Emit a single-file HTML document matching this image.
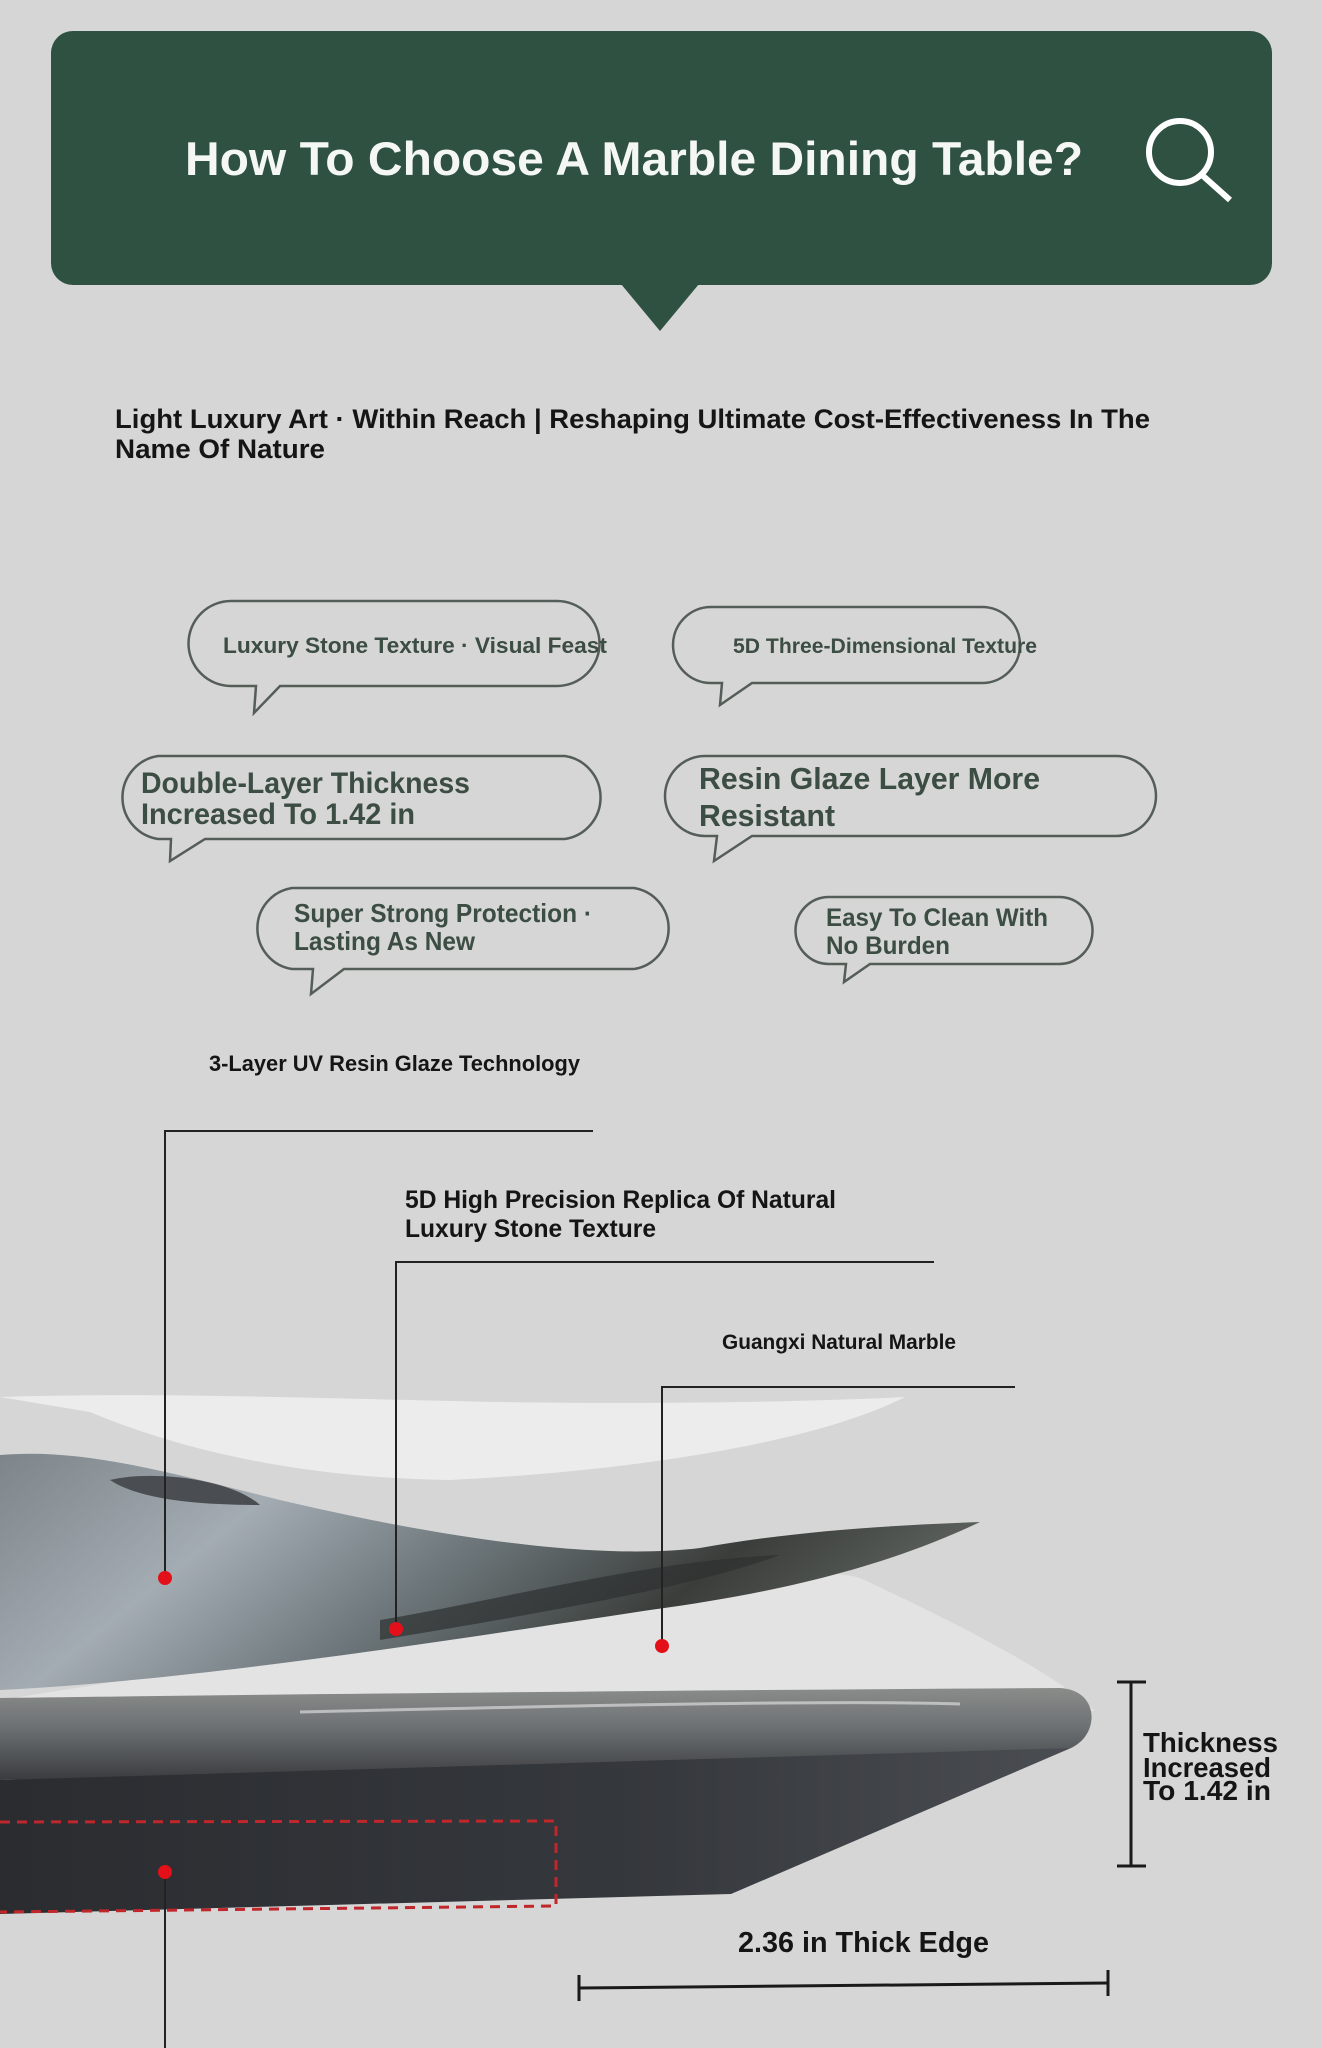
<!DOCTYPE html>
<html><head><meta charset="utf-8"><style>
html,body{margin:0;padding:0;background:#d6d6d6;}
svg{display:block}
text{font-family:"Liberation Sans",sans-serif;font-weight:bold}
</style></head><body>
<svg width="1322" height="2048" viewBox="0 0 1322 2048" xmlns="http://www.w3.org/2000/svg">
<defs>
<linearGradient id="sheet" x1="0" y1="0" x2="1" y2="0.3">
<stop offset="0" stop-color="#7d858a"/><stop offset="0.3" stop-color="#a3acb2"/><stop offset="0.55" stop-color="#6c767a"/><stop offset="0.8" stop-color="#3a3d3a"/><stop offset="1" stop-color="#5a5f5c"/>
</linearGradient>
<linearGradient id="slabTop" x1="0" y1="0" x2="0" y2="1">
<stop offset="0" stop-color="#8a8c8a"/><stop offset="0.4" stop-color="#6f7375"/><stop offset="1" stop-color="#3a3c40"/>
</linearGradient>
<linearGradient id="slabBot" x1="0" y1="0" x2="1" y2="0">
<stop offset="0" stop-color="#2a2c30"/><stop offset="0.6" stop-color="#35383d"/><stop offset="1" stop-color="#4a4d52"/>
</linearGradient>
</defs>
<rect width="1322" height="2048" fill="#d6d6d6"/>

<!-- header -->
<rect x="51" y="31" width="1221" height="254" rx="22" fill="#2e5141"/>
<polygon points="621,284 699,284 660,331" fill="#2e5141"/>
<text x="185" y="175" font-size="47" fill="#f4f7f4" textLength="898" lengthAdjust="spacingAndGlyphs">How To Choose A Marble Dining Table?</text>
<circle cx="1180" cy="152" r="31" fill="none" stroke="#fff" stroke-width="6"/>
<line x1="1202" y1="175" x2="1230" y2="200" stroke="#fff" stroke-width="6"/>

<text x="115" y="428" font-size="27" fill="#151515" textLength="1035" lengthAdjust="spacingAndGlyphs">Light Luxury Art · Within Reach | Reshaping Ultimate Cost-Effectiveness In The</text>
<text x="115" y="458" font-size="27" fill="#151515" textLength="210" lengthAdjust="spacingAndGlyphs">Name Of Nature</text>

<!-- bubbles -->
<g fill="none" stroke="#555d58" stroke-width="2.5">
<path d="M231,601 H557 A42,42 0 0 1 557,686 H280 L254,713 L256,686 H231 A42,42 0 0 1 231,601 Z"/>
<path d="M711,607 H982 A38,38 0 0 1 982,683 H752 L720,705 L722,683 H711 A38,38 0 0 1 711,607 Z"/>
<path d="M158,756 H565 A42,42 0 0 1 565,839 H205 L170,861 L171,839 H158 A42,42 0 0 1 158,756 Z"/>
<path d="M705,756 H1116 A40,40 0 0 1 1116,836 H752 L714,861 L717,836 H705 A40,40 0 0 1 705,756 Z"/>
<path d="M292,888 H634 A41,41 0 0 1 634,969 H344 L311,994 L313,969 H292 A41,41 0 0 1 292,888 Z"/>
<path d="M829,897 H1059 A33,33 0 0 1 1059,964 H870 L844,982 L846,964 H829 A33,33 0 0 1 829,897 Z"/>
</g>
<g fill="#3c4d44">
<text x="223" y="653" font-size="22" textLength="384" lengthAdjust="spacingAndGlyphs">Luxury Stone Texture · Visual Feast</text>
<text x="733" y="653" font-size="21" textLength="304" lengthAdjust="spacingAndGlyphs">5D Three-Dimensional Texture</text>
<text x="141" y="793" font-size="30" textLength="329" lengthAdjust="spacingAndGlyphs">Double-Layer Thickness</text>
<text x="141" y="824" font-size="30" textLength="274" lengthAdjust="spacingAndGlyphs">Increased To 1.42 in</text>
<text x="699" y="789" font-size="31" textLength="341" lengthAdjust="spacingAndGlyphs">Resin Glaze Layer More</text>
<text x="699" y="826" font-size="31" textLength="136" lengthAdjust="spacingAndGlyphs">Resistant</text>
<text x="294" y="922" font-size="26" textLength="298" lengthAdjust="spacingAndGlyphs">Super Strong Protection ·</text>
<text x="294" y="950" font-size="26" textLength="181" lengthAdjust="spacingAndGlyphs">Lasting As New</text>
<text x="826" y="926" font-size="25" textLength="222" lengthAdjust="spacingAndGlyphs">Easy To Clean With</text>
<text x="826" y="954" font-size="25" textLength="124" lengthAdjust="spacingAndGlyphs">No Burden</text>
</g>

<!-- labels -->
<g fill="#151515">
<text x="209" y="1071" font-size="22" textLength="371" lengthAdjust="spacingAndGlyphs">3-Layer UV Resin Glaze Technology</text>
<text x="405" y="1208" font-size="25" textLength="431" lengthAdjust="spacingAndGlyphs">5D High Precision Replica Of Natural</text>
<text x="405" y="1237" font-size="25" textLength="251" lengthAdjust="spacingAndGlyphs">Luxury Stone Texture</text>
<text x="722" y="1349" font-size="21" textLength="234" lengthAdjust="spacingAndGlyphs">Guangxi Natural Marble</text>
</g>

<!-- glaze swoosh -->
<path d="M0,1397 C150,1392 300,1398 500,1402 C700,1405 850,1400 905,1397 C820,1440 650,1470 450,1480 C300,1478 180,1450 90,1412 Z" fill="#ececec"/>
<!-- translucent wedge -->
<path d="M380,1640 C600,1590 800,1560 860,1578 C950,1620 1050,1670 1095,1711 L0,1700 Z" fill="#e3e3e3"/>
<!-- marble sheet -->
<path d="M0,1455 C80,1448 160,1470 280,1500 C450,1540 600,1560 700,1548 C800,1530 900,1525 980,1522 C900,1560 800,1590 650,1610 C450,1640 200,1680 0,1690 Z" fill="url(#sheet)"/>
<path d="M110,1480 C150,1470 230,1478 260,1505 C200,1505 140,1500 110,1480 Z" fill="#4a4d52"/>
<path d="M380,1620 C500,1600 650,1560 780,1555 C700,1585 560,1610 380,1640 Z" fill="#2e3130" opacity="0.7"/>

<!-- slab -->
<path d="M0,1698 C300,1694 700,1690 1060,1688 C1100,1690 1100,1735 1071,1748 L1000,1760 L0,1780 Z" fill="url(#slabTop)"/>
<path d="M0,1780 L1071,1748 L731,1894 L0,1914 Z" fill="url(#slabBot)"/>
<path d="M300,1712 C600,1705 850,1700 960,1704" stroke="#d8d8d8" stroke-width="3" fill="none" opacity="0.7"/>
<path d="M0,1822 L556,1821 L556,1906 L0,1912" fill="none" stroke="#c0262a" stroke-width="3" stroke-dasharray="10,7"/>

<!-- leader lines -->
<g stroke="#222" stroke-width="2" fill="none">
<polyline points="593,1131 165,1131 165,1578"/>
<polyline points="934,1262 396,1262 396,1629"/>
<polyline points="1015,1387 662,1387 662,1646"/>
<line x1="165" y1="1872" x2="165" y2="2048"/>
</g>
<g fill="#e3101a">
<circle cx="165" cy="1578" r="7"/><circle cx="396" cy="1629" r="7"/><circle cx="662" cy="1646" r="7"/><circle cx="165" cy="1872" r="7"/>
</g>

<!-- thickness bracket -->
<g stroke="#1a1a1a" stroke-width="3">
<line x1="1131" y1="1682" x2="1131" y2="1866"/>
<line x1="1117" y1="1682" x2="1146" y2="1682"/>
<line x1="1117" y1="1866" x2="1146" y2="1866"/>
<line x1="579" y1="1988" x2="1108" y2="1983"/>
<line x1="579" y1="1975" x2="579" y2="2001"/>
<line x1="1108" y1="1970" x2="1108" y2="1996"/>
</g>
<g fill="#151515">
<text x="1143" y="1752" font-size="28" textLength="135" lengthAdjust="spacingAndGlyphs">Thickness</text>
<text x="1143" y="1777" font-size="28" textLength="128" lengthAdjust="spacingAndGlyphs">Increased</text>
<text x="1143" y="1800" font-size="28" textLength="128" lengthAdjust="spacingAndGlyphs">To 1.42 in</text>
<text x="738" y="1952" font-size="29" textLength="251" lengthAdjust="spacingAndGlyphs">2.36 in Thick Edge</text>
</g>
</svg>
</body></html>
